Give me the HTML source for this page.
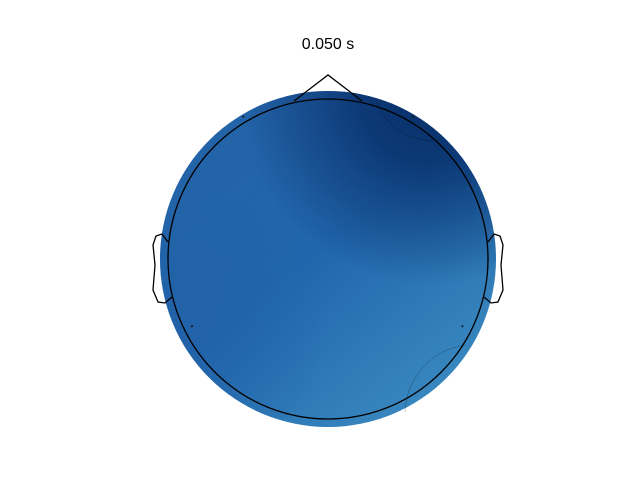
<!DOCTYPE html>
<html><head><meta charset="utf-8"><style>
body{margin:0;background:#fff}
svg{display:block}
text{font-family:"Liberation Sans","DejaVu Sans",sans-serif}
</style></head><body>
<svg id="chart" width="640" height="480" viewBox="0 0 640 480">
<defs>
<linearGradient id="lg" gradientUnits="userSpaceOnUse" x1="250" y1="160" x2="450" y2="410">
<stop offset="0" stop-color="#2364a9"/>
<stop offset="0.35" stop-color="#2166ac"/>
<stop offset="1" stop-color="#3b8bc1"/>
</linearGradient>
<radialGradient id="rg1" gradientUnits="userSpaceOnUse" cx="430" cy="95" r="190">
<stop offset="0" stop-color="#08306b" stop-opacity="1"/>
<stop offset="0.35" stop-color="#08306b" stop-opacity="0.85"/>
<stop offset="1" stop-color="#08306b" stop-opacity="0"/>
</radialGradient>
<radialGradient id="rg2" gradientUnits="userSpaceOnUse" cx="190" cy="320" r="140">
<stop offset="0" stop-color="#2160a6" stop-opacity="0.7"/>
<stop offset="1" stop-color="#2160a6" stop-opacity="0"/>
</radialGradient>
</defs>
<text x="328" y="49" text-anchor="middle" font-size="16">0.050 s</text>
<g>
<circle cx="328" cy="259" r="168" fill="url(#lg)"/>
<circle cx="328" cy="259" r="168" fill="url(#rg1)"/>
<circle cx="328" cy="259" r="168" fill="url(#rg2)"/>
<path d="M376,101 A60,60 0 0 0 440,140" fill="none" stroke="#000" stroke-width="0.4" opacity="0.5"/>
<path d="M465,345 A70,70 0 0 0 405,412" fill="none" stroke="#000" stroke-width="0.4" opacity="0.5"/>
</g>
<g fill="none" stroke="#000" stroke-width="1.3">
<circle cx="328" cy="259" r="160"/>
<polyline points="294,101 328,75 362,101"/>
<polyline points="168,242 162,234 156,236 153,245 155,265 153,290 158,302 165,303 172,297"/>
<polyline points="488,242 494,234 500,236 503,245 501,265 503,290 498,302 491,303 484,297"/>
</g>
<g id="sensors"></g>
</svg>
<script>
const sensorX = [-0.53, 0.53, -0.85, 0.84, 1.0];
const sensorY = [0.89, 0.89, -0.42, -0.42, 0.0];
const sensorValues = [-2.1, -3.0, -1.2, -0.6, -1.0];
const cx = 328, cy = 259, R = 160;
function px(x){return cx + x*R;}
function py(y){return cy - y*R;}
const g = document.getElementById('sensors');
for (let i = 0; i < sensorX.length; i++) {
  const c = document.createElementNS('http://www.w3.org/2000/svg','circle');
  c.setAttribute('cx', px(sensorX[i]));
  c.setAttribute('cy', py(sensorY[i]));
  c.setAttribute('r', 1);
  c.setAttribute('fill', '#111');
  c.setAttribute('data-value', sensorValues[i]);
  
  
  g.appendChild(c);
}
</script>
</body></html>
